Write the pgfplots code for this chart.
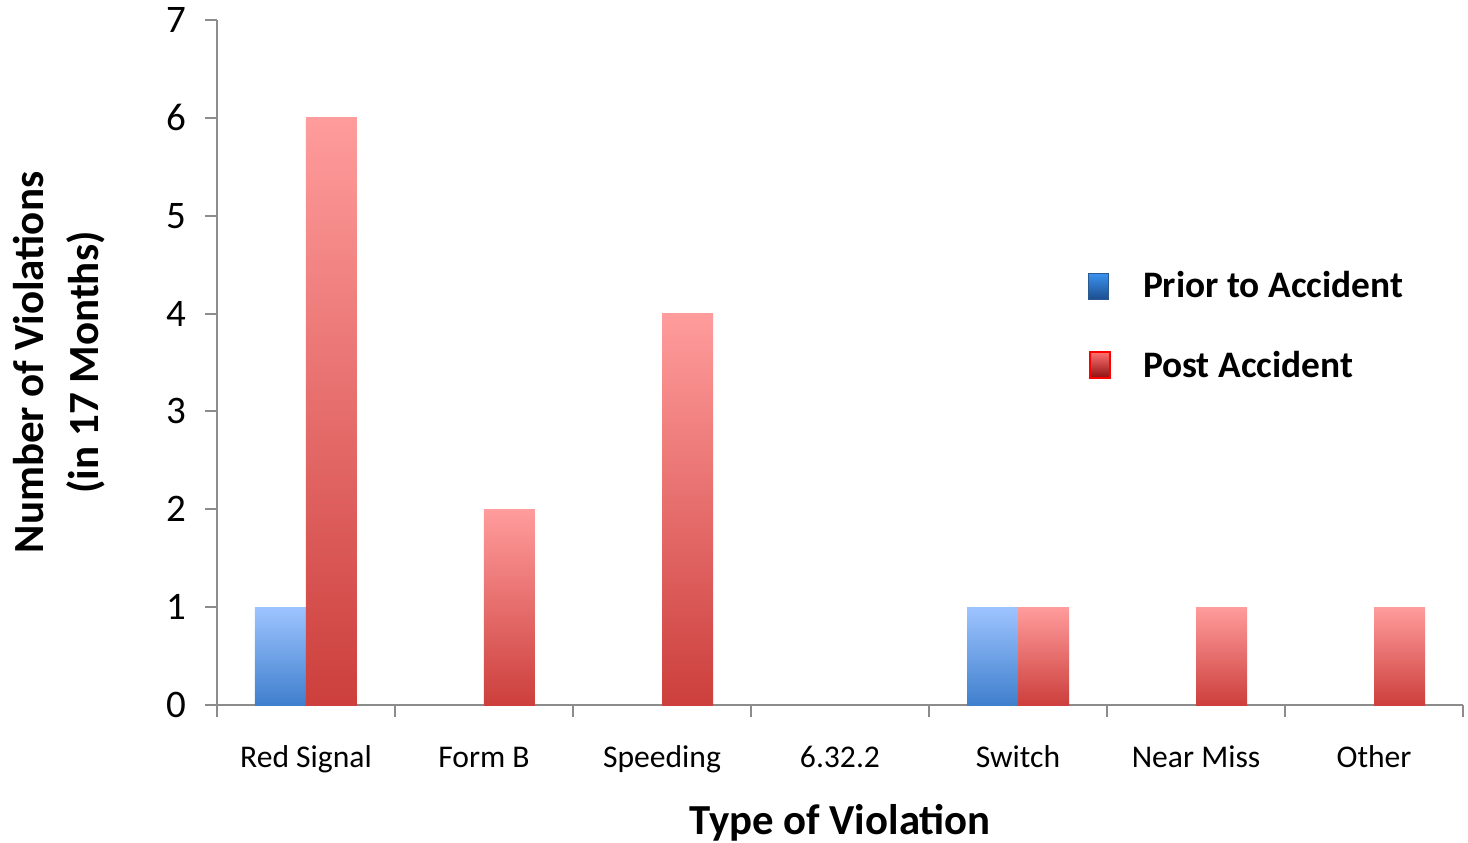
\documentclass[border=0pt]{standalone}
\usepackage{pgfplots}
\pgfplotsset{compat=1.18}
\usepackage{fontspec}
\setmainfont{Carlito}

\definecolor{axisgrey}{HTML}{8C8C8C}
\definecolor{blueTop}{HTML}{9EC4FF}
\definecolor{blueBot}{HTML}{3F7FCD}
\definecolor{redTop}{HTML}{FF9C9C}
\definecolor{redBot}{HTML}{CC3F3C}
\definecolor{legBlueTop}{HTML}{3B93F0}
\definecolor{legBlueBot}{HTML}{1C4E8E}
\definecolor{legRedTop}{HTML}{FF7070}
\definecolor{legRedBot}{HTML}{8A0E0E}

% each bar is its own plot so that its shading spans that bar only
\pgfplotsset{
  priorbar/.style={ybar, bar width=25.5pt, bar shift=-12.75pt, draw=none,
    top color=blueTop, bottom color=blueBot, forget plot},
  postbar/.style={ybar, bar width=25.5pt, bar shift=12.75pt, draw=none,
    top color=redTop, bottom color=redBot, forget plot},
}

\begin{document}
\begin{tikzpicture}[x=0.5pt,y=0.5pt]
\useasboundingbox (-217,-137) rectangle (1251,705);
\begin{axis}[
  at={(0,0)}, anchor=south west,
  scale only axis,
  width=623pt, height=342.5pt,
  xmin=-0.5, xmax=6.5,
  ymin=0, ymax=7,
  xtick={0,...,6},
  xticklabels={Red Signal, Form B, Speeding, 6.32.2, Switch, Near Miss, Other},
  minor xtick={-0.5,0.5,...,6.5},
  ytick={0,...,7},
  major x tick style={draw=none},
  tick align=outside,
  major tick length=6pt, minor tick length=6pt,
  tick style={axisgrey, line width=1pt},
  axis x line*=bottom, axis y line*=left,
  axis line style={axisgrey, line width=1.2pt, -},
  xticklabel style={font=\fontsize{15.8}{18}\selectfont, yshift=-10pt,
    text height=11.5pt, text depth=3.5pt},
  yticklabel style={font=\fontsize{19.5}{22}\selectfont, xshift=-6pt},
  /pgf/number format/assume math mode=true,
  xlabel={\bfseries Type of Violation},
  xlabel style={font=\fontsize{21.4}{24}\selectfont, inner sep=0pt, yshift=-11.5pt},
  ylabel={\bfseries\begin{tabular}{c}Number of Violations\\(in 17 Months)\end{tabular}},
  ylabel style={font=\fontsize{21.5}{27.5}\selectfont, yshift=18.5pt},
  legend style={draw=none, fill=none, at={(0.694,0.645)}, anchor=north west,
    font=\bfseries\fontsize{18.7}{21}\selectfont, row sep=21pt},
  legend cell align=left,
]
% Prior to Accident
\addplot[priorbar] coordinates {(0,1)};
\addplot[priorbar] coordinates {(4,1)};
% Post Accident
\addplot[postbar] coordinates {(0,6)};
\addplot[postbar] coordinates {(1,2)};
\addplot[postbar] coordinates {(2,4)};
\addplot[postbar] coordinates {(4,1)};
\addplot[postbar] coordinates {(5,1)};
\addplot[postbar] coordinates {(6,1)};
\addlegendimage{legend image code/.code={
  \draw[draw=blueBot!70!black, line width=0.5pt, top color=legBlueTop, bottom color=legBlueBot] (0pt,-6.5pt) rectangle (10pt,6.5pt);
  \path (25pt,0pt);}}
\addlegendentry{Prior to Accident}
\addlegendimage{legend image code/.code={
  \draw[draw=red, line width=1pt, top color=legRedTop, bottom color=legRedBot] (0.5pt,-6.5pt) rectangle (10.5pt,6.5pt);
  \path (25pt,0pt);}}
\addlegendentry{Post Accident}
\end{axis}
\end{tikzpicture}
\end{document}
